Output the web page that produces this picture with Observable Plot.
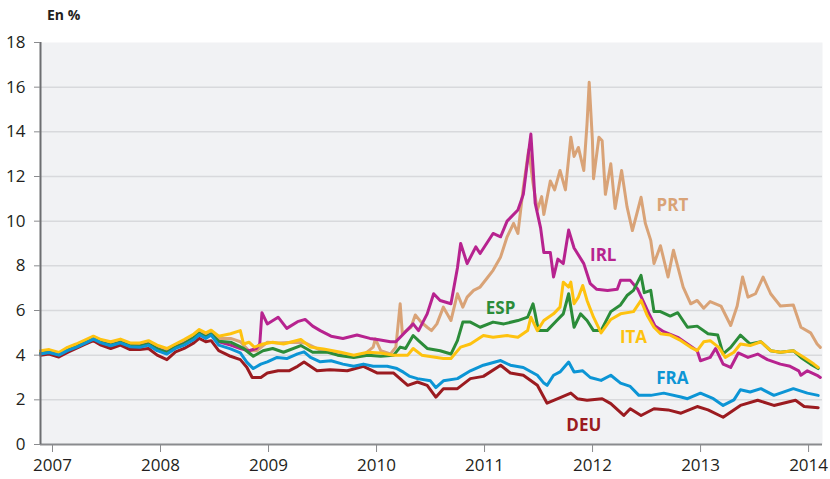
<!DOCTYPE html>
<html><head><meta charset="utf-8">
<script src="https://cdn.jsdelivr.net/npm/d3@7"></script>
<script src="https://cdn.jsdelivr.net/npm/@observablehq/plot@0.6"></script>
<style>
body{margin:0;background:#fff;font-family:"Open Sans",sans-serif}
#wrap{position:relative;width:830px;height:479px}
#unit{position:absolute;left:47px;top:5px;font-weight:bold;font-size:14px;color:#231f20}
#chart{position:absolute;left:0;top:0}
</style></head><body>
<div id="wrap"><div id="unit">En %</div><div id="chart"></div></div>
<script>
// Tick labels
const yTicks = [0, 2, 4, 6, 8, 10, 12, 14, 16, 18];
const xTicks = [2007, 2008, 2009, 2010, 2011, 2012, 2013, 2014];
const countries = ["PRT", "IRL", "DEU", "ESP", "ITA", "FRA"];
const colors = ["#d9a377", "#b7238f", "#9b1b20", "#2b8c39", "#fec20f", "#0c95d5"];

// Series: [year, yield %]
const PRT = [[2007.00,4.12],[2007.08,4.18],[2007.17,4.05],[2007.25,4.27],[2007.33,4.42],[2007.42,4.62],[2007.49,4.78],[2007.56,4.62],[2007.65,4.5],[2007.74,4.63],[2007.83,4.46],[2007.92,4.45],[2008.00,4.55],[2008.08,4.35],[2008.17,4.2],[2008.25,4.42],[2008.33,4.6],[2008.42,4.85],[2008.47,5.05],[2008.53,4.9],[2008.58,5.0],[2008.65,4.75],
[2008.76,4.75],[2008.85,4.6],[2008.93,4.2],[2009.0,4.2],[2009.1,4.58],[2009.2,4.55],[2009.35,4.58],[2009.45,4.55],[2009.6,4.2],[2009.75,4.05],[2009.9,3.95],[2010.0,4.05],[2010.08,4.36],[2010.1,4.73],[2010.15,4.2],[2010.24,4.06],[2010.29,4.36],[2010.33,6.3],[2010.35,4.96],[2010.43,5.25],[2010.47,5.8],[2010.52,5.5],[2010.58,5.25],[2010.62,5.1],[2010.67,5.4],[2010.73,6.15],[2010.8,5.55],[2010.86,6.75],[2010.91,6.15],[2010.95,6.6],[2011.01,6.9],[2011.07,7.05],[2011.13,7.42],[2011.19,7.8],[2011.26,8.4],[2011.32,9.3],[2011.38,9.9],[2011.42,9.45],[2011.47,11.5],[2011.52,13.2],[2011.56,11.7],[2011.6,10.5],[2011.64,11.1],[2011.66,10.3],[2011.72,11.8],[2011.76,11.4],[2011.81,12.27],[2011.86,11.4],[2011.91,13.76],[2011.94,12.9],[2011.98,13.3],[2012.03,12.27],[2012.06,14.37],[2012.08,16.22],[2012.11,13.6],[2012.12,11.9],[2012.17,13.76],[2012.2,13.6],[2012.23,11.2],[2012.28,12.57],[2012.32,10.57],[2012.38,12.27],[2012.43,10.65],[2012.48,9.58],[2012.53,10.5],[2012.56,11.07],[2012.6,9.9],[2012.65,9.14],[2012.68,8.1],[2012.74,8.9],[2012.81,7.5],[2012.86,8.7],[2012.95,7.05],[2013.02,6.3],[2013.08,6.45],[2013.14,6.1],[2013.2,6.4],[2013.3,6.2],[2013.39,5.33],[2013.45,6.2],[2013.5,7.5],[2013.55,6.6],[2013.62,6.75],[2013.69,7.5],[2013.76,6.75],[2013.85,6.2],[2013.97,6.25],[2014.04,5.25],[2014.13,5.0],[2014.19,4.5],[2014.22,4.35]];

const IRL = [[2007.00,4.05],[2007.08,4.12],[2007.17,4.0],[2007.25,4.2],[2007.33,4.36],[2007.42,4.56],[2007.49,4.73],[2007.56,4.56],[2007.65,4.44],[2007.74,4.57],[2007.83,4.4],[2007.92,4.4],[2008.00,4.5],[2008.08,4.28],[2008.17,4.12],[2008.25,4.36],[2008.33,4.52],[2008.42,4.76],[2008.47,4.96],[2008.53,4.8],[2008.58,4.92],[2008.65,4.6],
[2008.76,4.45],[2008.85,4.3],[2008.93,4.2],[2009.0,4.3],[2009.03,4.5],[2009.05,5.9],[2009.1,5.4],[2009.2,5.7],[2009.28,5.2],[2009.38,5.5],[2009.45,5.6],[2009.52,5.3],[2009.59,5.1],[2009.69,4.85],[2009.8,4.75],[2009.93,4.9],[2010.05,4.75],[2010.12,4.7],[2010.24,4.6],[2010.29,4.6],[2010.45,5.4],[2010.5,5.1],[2010.58,5.85],[2010.64,6.75],[2010.7,6.45],[2010.8,6.3],[2010.86,7.9],[2010.89,9.0],[2010.95,8.1],[2011.03,8.85],[2011.07,8.55],[2011.19,9.45],[2011.26,9.3],[2011.32,10.0],[2011.42,10.5],[2011.47,11.2],[2011.54,13.9],[2011.56,12.4],[2011.58,10.8],[2011.63,9.7],[2011.66,8.6],[2011.72,8.6],[2011.75,7.5],[2011.79,8.3],[2011.84,8.1],[2011.89,9.6],[2011.94,8.8],[2012.03,8.1],[2012.09,7.2],[2012.15,6.95],[2012.25,6.9],[2012.34,6.95],[2012.37,7.35],[2012.46,7.35],[2012.53,6.95],[2012.62,6.0],[2012.69,5.3],[2012.77,5.05],[2012.9,4.8],[2012.99,4.5],[2013.08,4.2],[2013.11,3.75],[2013.2,3.9],[2013.25,4.3],[2013.32,3.6],[2013.39,3.45],[2013.46,4.1],[2013.55,3.9],[2013.64,4.05],[2013.73,3.8],[2013.85,3.6],[2013.94,3.5],[2014.02,3.3],[2014.04,3.1],[2014.1,3.3],[2014.19,3.1],[2014.22,3.0]];

const ESP = [[2007.00,4.08],[2007.08,4.15],[2007.17,4.02],[2007.25,4.23],[2007.33,4.38],[2007.42,4.58],[2007.49,4.75],[2007.56,4.58],[2007.65,4.45],[2007.74,4.58],[2007.83,4.42],[2007.92,4.4],[2008.00,4.5],[2008.08,4.28],[2008.17,4.12],[2008.25,4.36],[2008.33,4.52],[2008.42,4.78],[2008.47,4.98],[2008.53,4.82],[2008.58,4.95],[2008.65,4.62],
[2008.76,4.58],[2008.88,4.3],[2008.97,3.95],[2009.06,4.2],[2009.15,4.3],[2009.25,4.13],[2009.41,4.43],[2009.52,4.13],[2009.66,4.13],[2009.75,4.0],[2009.9,3.9],[2010.03,4.0],[2010.15,3.95],[2010.27,4.0],[2010.33,4.36],[2010.38,4.3],[2010.45,4.88],[2010.5,4.65],[2010.58,4.3],[2010.7,4.2],[2010.8,4.05],[2010.86,4.65],[2010.91,5.48],[2010.98,5.48],[2011.07,5.25],[2011.19,5.48],[2011.29,5.4],[2011.42,5.55],[2011.51,5.7],[2011.56,6.3],[2011.58,5.85],[2011.61,5.1],[2011.69,5.1],[2011.78,5.55],[2011.84,5.85],[2011.89,6.75],[2011.94,5.25],[2012.0,5.85],[2012.06,5.55],[2012.12,5.1],[2012.19,5.1],[2012.28,5.95],[2012.37,6.25],[2012.43,6.67],[2012.49,6.9],[2012.56,7.57],[2012.59,6.8],[2012.65,6.9],[2012.68,5.95],[2012.74,5.95],[2012.83,5.75],[2012.9,5.9],[2012.99,5.25],[2013.08,5.3],[2013.18,4.96],[2013.27,4.9],[2013.32,4.06],[2013.39,4.35],[2013.48,4.9],[2013.57,4.5],[2013.67,4.6],[2013.76,4.2],[2013.85,4.13],[2013.97,4.2],[2014.04,3.9],[2014.13,3.6],[2014.2,3.4]];

const ITA = [[2007.00,4.2],[2007.08,4.25],[2007.17,4.12],[2007.25,4.35],[2007.33,4.5],[2007.42,4.7],[2007.49,4.85],[2007.56,4.7],[2007.65,4.6],[2007.74,4.72],[2007.83,4.55],[2007.92,4.55],[2008.00,4.65],[2008.08,4.45],[2008.17,4.3],[2008.25,4.5],[2008.33,4.7],[2008.42,4.95],[2008.47,5.15],[2008.53,5.0],[2008.58,5.12],[2008.65,4.85],
[2008.76,4.96],[2008.85,5.1],[2008.88,4.5],[2008.93,4.58],[2008.98,4.36],[2009.06,4.5],[2009.15,4.58],[2009.25,4.5],[2009.41,4.7],[2009.5,4.36],[2009.62,4.28],[2009.78,4.13],[2009.9,4.0],[2010.03,4.13],[2010.15,4.1],[2010.27,4.0],[2010.4,4.0],[2010.45,4.3],[2010.53,4.0],[2010.73,3.85],[2010.8,3.85],[2010.89,4.36],[2010.98,4.5],[2011.1,4.88],[2011.19,4.8],[2011.32,4.88],[2011.42,4.8],[2011.51,5.1],[2011.54,5.7],[2011.6,5.1],[2011.66,5.55],[2011.75,5.85],[2011.81,6.15],[2011.84,7.27],[2011.89,7.05],[2011.91,7.27],[2011.94,6.3],[2011.98,6.6],[2012.02,7.12],[2012.06,6.45],[2012.12,5.7],[2012.19,5.0],[2012.28,5.6],[2012.37,5.85],[2012.49,5.95],[2012.56,6.45],[2012.62,5.75],[2012.68,5.25],[2012.74,4.96],[2012.83,4.9],[2012.93,4.65],[2013.02,4.35],[2013.08,4.2],[2013.14,4.6],[2013.2,4.65],[2013.28,4.35],[2013.34,3.9],[2013.42,4.13],[2013.48,4.5],[2013.57,4.43],[2013.67,4.6],[2013.76,4.2],[2013.85,4.13],[2013.97,4.2],[2014.07,3.9],[2014.16,3.6],[2014.2,3.45]];

const FRA = [[2007.00,4.05],[2007.08,4.12],[2007.17,4.0],[2007.25,4.2],[2007.33,4.35],[2007.42,4.55],[2007.49,4.72],[2007.56,4.55],[2007.65,4.42],[2007.74,4.55],[2007.83,4.38],[2007.92,4.35],[2008.00,4.45],[2008.08,4.2],[2008.17,4.05],[2008.25,4.3],[2008.33,4.45],[2008.42,4.7],[2008.47,4.92],[2008.53,4.75],[2008.58,4.9],[2008.65,4.45],
[2008.76,4.28],[2008.85,4.1],[2008.91,3.69],[2008.97,3.4],[2009.04,3.6],[2009.1,3.7],[2009.19,3.9],[2009.28,3.85],[2009.38,4.06],[2009.44,4.15],[2009.5,3.9],[2009.59,3.7],[2009.69,3.75],[2009.8,3.6],[2009.9,3.5],[2009.99,3.6],[2010.08,3.5],[2010.21,3.5],[2010.3,3.4],[2010.36,3.24],[2010.42,3.05],[2010.49,2.95],[2010.61,2.85],[2010.66,2.55],[2010.73,2.85],[2010.86,2.95],[2010.98,3.3],[2011.1,3.55],[2011.26,3.76],[2011.35,3.55],[2011.47,3.45],[2011.6,3.1],[2011.66,2.75],[2011.69,2.65],[2011.75,3.1],[2011.81,3.25],[2011.89,3.69],[2011.94,3.25],[2012.02,3.3],[2012.09,3.0],[2012.19,2.87],[2012.28,3.1],[2012.37,2.75],[2012.46,2.6],[2012.54,2.2],[2012.65,2.2],[2012.77,2.3],[2012.93,2.13],[2012.99,2.05],[2013.11,2.3],[2013.23,2.05],[2013.32,1.75],[2013.42,2.0],[2013.48,2.45],[2013.57,2.35],[2013.67,2.5],[2013.79,2.2],[2013.97,2.5],[2014.1,2.3],[2014.2,2.2]];

const DEU = [[2007.00,4.0],[2007.08,4.05],[2007.17,3.92],[2007.25,4.12],[2007.33,4.3],[2007.42,4.5],[2007.49,4.65],[2007.56,4.45],[2007.65,4.3],[2007.74,4.45],[2007.83,4.25],[2007.92,4.25],[2008.00,4.3],[2008.08,4.0],[2008.17,3.8],[2008.25,4.15],[2008.33,4.3],[2008.42,4.55],[2008.47,4.75],[2008.53,4.6],[2008.58,4.65],[2008.65,4.2],
[2008.76,3.95],[2008.85,3.8],[2008.91,3.46],[2008.96,3.0],[2009.04,3.0],[2009.1,3.2],[2009.2,3.3],[2009.3,3.3],[2009.38,3.5],[2009.44,3.69],[2009.56,3.3],[2009.68,3.35],[2009.84,3.3],[2009.99,3.5],[2010.12,3.2],[2010.27,3.2],[2010.4,2.65],[2010.49,2.8],[2010.58,2.65],[2010.66,2.12],[2010.73,2.5],[2010.86,2.5],[2010.98,2.95],[2011.1,3.05],[2011.26,3.55],[2011.35,3.2],[2011.47,3.1],[2011.6,2.65],[2011.69,1.85],[2011.79,2.05],[2011.91,2.3],[2011.97,2.05],[2012.06,1.98],[2012.2,2.05],[2012.28,1.83],[2012.4,1.3],[2012.46,1.6],[2012.56,1.3],[2012.68,1.6],[2012.81,1.55],[2012.93,1.4],[2013.08,1.7],[2013.18,1.55],[2013.32,1.22],[2013.48,1.75],[2013.64,1.98],[2013.79,1.75],[2013.99,1.98],[2014.07,1.7],[2014.2,1.65]];

// Series labels (anchor in data units)
const labelNames = ["PRT", "IRL", "ESP", "ITA", "FRA", "DEU"];
const labelYears = [2012.85, 2012.21, 2011.26, 2012.49, 2012.85, 2012.03];
const labelValues = [10.72, 8.47, 6.08, 4.8, 2.95, 0.87];

const seriesData = {PRT, IRL, ESP, ITA, FRA, DEU};
const colorOf = Object.fromEntries(countries.map((c, i) => [c, colors[i]]));
const labels = labelNames.map((n, i) => ({name: n, year: labelYears[i], value: labelValues[i]}));

const lineMarks = countries.map(c =>
  Plot.line(seriesData[c], {x: d => d[0], y: d => d[1], stroke: colorOf[c], strokeWidth: 3, strokeLinejoin: "round"})
);

const chart = Plot.plot({
  width: 830,
  height: 479,
  marginTop: 42,
  marginBottom: 35,
  marginLeft: 40,
  marginRight: 8,
  style: {fontFamily: "'Open Sans', sans-serif", fontSize: "17px", color: "#231f20", background: "transparent"},
  x: {domain: [2007, 2014.24]},
  y: {domain: [0, 18]},
  marks: [
    Plot.frame({fill: "#f1f2f4", stroke: null}),
    Plot.ruleY(yTicks.filter(v => v > 0 && v < 18), {stroke: "#d8d9dc", strokeWidth: 1.5}),
    ...lineMarks,
    Plot.ruleY([0], {stroke: "#8a8b8e", strokeWidth: 2}),
    Plot.ruleX([2007], {stroke: "#6d6e71", strokeWidth: 2}),
    Plot.axisY({ticks: yTicks, tickSize: 6, tickPadding: 9, label: null, stroke: "#8a8b8e", tickFormat: d => String(d)}),
    Plot.axisX({ticks: xTicks, tickSize: 8, tickPadding: 6, dx: 12, label: null, stroke: "#8a8b8e", tickFormat: d => String(d)}),
    Plot.text(labels, {x: "year", y: "value", text: "name", fill: d => colorOf[d.name], fontWeight: "bold", fontSize: 17})
  ]
});
document.getElementById("chart").appendChild(chart);
</script>
</body></html>
